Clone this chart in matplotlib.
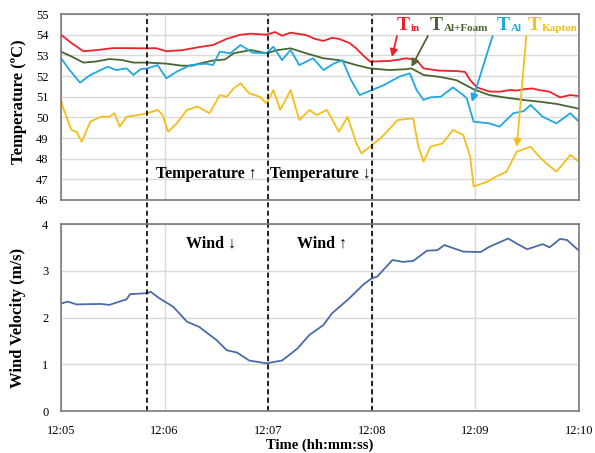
import matplotlib
matplotlib.use("Agg")
import matplotlib.pyplot as plt

# Temperature records (seconds after 12:05, degC)
t_in = [0, 6, 13, 20, 30, 40, 50, 55, 61, 70, 80, 88, 96, 104, 110, 119, 124, 128, 133,
        142, 147, 152, 157, 161, 167, 171, 175, 179, 190, 196, 200, 206, 210, 219, 229,
        234, 237, 241, 248, 254, 260, 264, 268, 273, 277, 283, 289, 295, 300]
T_in = [54.0, 53.6, 53.2, 53.25, 53.35, 53.35, 53.34, 53.35, 53.2, 53.25, 53.4, 53.5, 53.8,
        54.0, 54.05, 54.0, 54.13, 53.95, 54.1, 53.98, 53.8, 53.7, 53.85, 53.8, 53.6, 53.34,
        53.0, 52.7, 52.73, 52.8, 52.86, 52.77, 52.37, 52.26, 52.24, 52.2, 51.8, 51.45,
        51.25, 51.24, 51.32, 51.3, 51.36, 51.4, 51.32, 51.24, 50.97, 51.08, 51.03]

t_foam = [0, 6, 13, 20, 28, 35, 42, 50, 61, 70, 76, 80, 88, 95, 100, 110, 119, 125, 133,
          142, 152, 161, 171, 179, 190, 200, 203, 210, 220, 229, 239, 248, 258, 268, 278,
          287, 300]
T_foam = [53.18, 52.95, 52.65, 52.7, 52.82, 52.78, 52.65, 52.65, 52.6, 52.5, 52.5, 52.6,
          52.75, 52.8, 53.1, 53.26, 53.1, 53.25, 53.34, 53.1, 52.86, 52.77, 52.53, 52.37,
          52.29, 52.33, 52.37, 52.05, 51.95, 51.8, 51.36, 51.08, 50.95, 50.84, 50.75, 50.65,
          50.42]

t_al = [0, 5, 11, 17, 23, 27, 32, 38, 42, 46, 50, 56, 61, 67, 75, 84, 88, 92, 98, 104,
        111, 119, 123, 128, 133, 138, 146, 152, 158, 163, 168, 173, 180, 187, 196, 202,
        206, 210, 214, 220, 227, 233, 235, 239, 248, 254, 262, 268, 272, 279, 287, 295, 300]
T_al = [52.86, 52.29, 51.68, 52.05, 52.29, 52.45, 52.29, 52.37, 52.05, 52.33, 52.37, 52.53,
        51.89, 52.21, 52.53, 52.6, 52.53, 53.18, 53.1, 53.5, 53.13, 53.1, 53.42, 52.77,
        53.26, 52.53, 52.86, 52.29, 52.6, 52.77, 51.8, 51.08, 51.32, 51.56, 51.97, 52.13,
        51.32, 50.84, 50.97, 51.0, 51.45, 51.08, 50.92, 49.79, 49.71, 49.55, 50.2, 50.3,
        50.6, 50.03, 49.71, 50.2, 49.79]

t_kap = [0, 1, 6, 9, 12, 17, 23, 28, 31, 34, 38, 44, 50, 56, 59, 62, 67, 73, 79, 86, 92,
         96, 100, 104, 109, 115, 119, 123, 127, 133, 138, 144, 148, 154, 161, 166, 171, 174,
         179, 186, 195, 204, 207, 210, 214, 221, 227, 233, 237, 239, 247, 252, 258, 264,
         272, 277, 281, 287, 295, 300]
T_kap = [50.84, 50.52, 49.39, 49.3, 48.82, 49.79, 50.03, 50.03, 50.2, 49.55, 50.03, 50.1,
         50.2, 50.36, 50.1, 49.3, 49.7, 50.36, 50.52, 50.2, 51.08, 51.0, 51.4, 51.65, 51.16,
         51.0, 50.68, 51.32, 50.36, 51.32, 49.87, 50.36, 50.11, 50.36, 49.3, 50.03, 48.76,
         48.26, 48.58, 49.06, 49.87, 49.95, 48.58, 47.86, 48.58, 48.74, 49.39, 49.15, 48.1,
         46.65, 46.89, 47.13, 47.37, 48.34, 48.58, 48.1, 47.78, 47.37, 48.18, 47.86]

# Wind velocity (m/s)
t_wind = [0, 4, 9, 23, 28, 38, 40, 50, 52, 57, 65, 73, 80, 90, 96, 102, 109, 119, 128,
          134, 137, 144, 152, 157, 167, 175, 180, 183, 192, 198, 204, 212, 218, 222, 233,
          243, 248, 259, 264, 270, 279, 283, 289, 293, 300]
wind = [2.30, 2.34, 2.28, 2.29, 2.27, 2.39, 2.5, 2.52, 2.55, 2.41, 2.23, 1.91, 1.80, 1.52,
        1.30, 1.25, 1.08, 1.02, 1.08, 1.25, 1.34, 1.63, 1.84, 2.09, 2.41, 2.70, 2.84, 2.87,
        3.23, 3.19, 3.21, 3.43, 3.44, 3.55, 3.41, 3.40, 3.51, 3.69, 3.58, 3.46, 3.57, 3.50,
        3.68, 3.66, 3.43]

tick_pos = [0, 60, 120, 180, 240, 300]
tick_labels = ["12:05", "12:06", "12:07", "12:08", "12:09", "12:10"]
phase_lines = [50, 120, 180]

plt.rcParams["font.family"] = ["Liberation Serif", "DejaVu Serif"]

c_red, c_green, c_blue, c_yel = "#f0202a", "#4a6632", "#20a8e0", "#f5be18"

fig = plt.figure(figsize=(5.95, 4.53), dpi=100)
ax1 = fig.add_axes([0.1025, 0.5585, 0.8705, 0.4105])
ax2 = fig.add_axes([0.1025, 0.0927, 0.8705, 0.4128])

for ax in (ax1, ax2):
    ax.set_xlim(0, 300)
    ax.set_xticks(tick_pos)
    ax.grid(True, color="#d9d9d9", linewidth=1)
    ax.set_axisbelow(True)
    ax.tick_params(length=0, labelsize=9)
    ax.tick_params(axis="y", pad=9)
    ax.tick_params(axis="x", pad=10)
    for s in ax.spines.values():
        s.set_color("#7a7a7a")
        s.set_linewidth(1.2)

# top: temperatures
ax1.plot(t_in, T_in, color=c_red, lw=1.3)
ax1.plot(t_foam, T_foam, color=c_green, lw=1.3)
ax1.plot(t_al, T_al, color=c_blue, lw=1.3)
ax1.plot(t_kap, T_kap, color=c_yel, lw=1.3)
ax1.set_ylim(46, 55)
ax1.set_yticks(range(46, 56))
ax1.set_xticklabels([])
ax1.set_ylabel("Temperature (ºC)", fontsize=12, fontweight="bold")
ax1.yaxis.set_label_coords(-0.066, 0.53)

# curve labels (T + bold subscript) with arrows
labels = [("in", c_red, 194.6, 194.6, (191.7, 52.92)),
          ("Al+Foam", c_green, 213.7, 212.5, (203, 52.44)),
          ("Al", c_blue, 252.5, 250.0, (238, 50.74)),
          ("Kapton", c_yel, 270.4, 269.5, (264, 48.57))]
for sub, col, lx, ax0, tip in labels:
    tt = ax1.text(lx, 54.25, "T", color=col, fontsize=14, fontweight="semibold",
                  ha="left", va="baseline")
    ax1.annotate(sub, xy=(1, 0), xycoords=tt, xytext=(0.5, 0.3), textcoords="offset points",
                 color=col, fontsize=8, fontweight="bold", ha="left", va="bottom")
    ax1.annotate("", xy=tip, xytext=(ax0, 53.94),
                 arrowprops=dict(arrowstyle="-|>", color=col, lw=1.3,
                                 mutation_scale=11, shrinkA=0, shrinkB=0))

ax1.text(55, 47.08, "Temperature ↑", fontsize=11.5, fontweight="bold", ha="left", va="baseline")
ax1.text(121, 47.08, "Temperature ↓", fontsize=11.5, fontweight="bold", ha="left", va="baseline")

# bottom: wind
ax2.plot(t_wind, wind, color="#4a6aa8", lw=1.3)
ax2.set_ylim(0, 4)
ax2.set_yticks(range(0, 5))
ax2.set_xticklabels(tick_labels)
ax2.set_ylabel("Wind Velocity (m/s)", fontsize=12, fontweight="bold")
ax2.yaxis.set_label_coords(-0.068, 0.5)
ax2.set_xlabel("Time (hh:mm:ss)", fontsize=10.5, fontweight="bold", labelpad=1)
ax2.text(72.5, 3.49, "Wind ↓", fontsize=11.5, fontweight="bold", ha="left", va="baseline")
ax2.text(136.5, 3.49, "Wind ↑", fontsize=11.5, fontweight="bold", ha="left", va="baseline")

# dashed phase markers spanning both panels
for x in phase_lines:
    ax1.axvline(x, ymin=-0.13, ymax=1, color="black", lw=1.2, ls=(0, (3, 2)), clip_on=False)
    ax2.axvline(x, color="black", lw=1.2, ls=(0, (3, 2)))

fig.savefig("out.png", dpi=100)
